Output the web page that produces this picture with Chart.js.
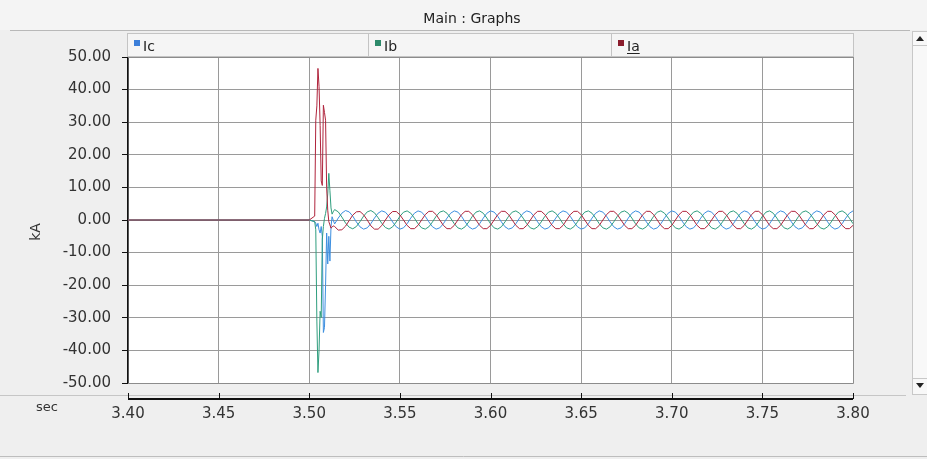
<!DOCTYPE html>
<html>
<head>
<meta charset="utf-8">
<script src="https://cdn.jsdelivr.net/npm/chart.js@4.4.1/dist/chart.umd.min.js"></script>
<style>
  html, body { margin: 0; padding: 0; background: #efefef; }
  #wrap { width: 927px; height: 459px; }
</style>
</head>
<body>
<div id="wrap"><canvas id="graph" width="927" height="459"></canvas></div>
<script>
// legend order as shown in the graph header
const seriesNames = ['Ic', 'Ib', 'Ia']
const seriesColors = { Ia: '#b0243c', Ib: '#2f9e7e', Ic: '#3d8fe0' }
const legendColors = { Ia: '#8a1c2c', Ib: '#2d8a6a', Ic: '#3c7fd9' }

const xTicks = [3.40, 3.45, 3.50, 3.55, 3.60, 3.65, 3.70, 3.75, 3.80]
const yTicks = [-50, -40, -30, -20, -10, 0, 10, 20, 30, 40, 50]

// pre-fault and fault transient (sec, kA)
const faultTime = [3.4000, 3.5000, 3.5030, 3.5036, 3.5042, 3.5048, 3.5054, 3.5060, 3.5066, 3.5072,
                   3.5078, 3.5084, 3.5090, 3.5096, 3.5102, 3.5108, 3.5114, 3.5120, 3.5126, 3.5132]
const faultIa = [0, 0, 1.2, 30.6, 35.0, 46.5, 41.0, 29.0, 12.0, 10.6,
                 35.2, 33.0, 30.6, 10.0, 3.0, -0.5, -1.5, -2.5, -2.2, -1.8]
const faultIb = [0, 0, -0.5, -3.0, -31.0, -46.8, -40.0, -28.0, -29.9, -6.0,
                 -2.0, 0.5, 2.0, 4.0, 8.0, 14.3, 9.0, 3.7, 1.8, 2.5]
const faultIc = [0, 0, -0.5, -1.0, -2.0, -1.0, -3.0, -4.0, -2.0, -5.0,
                 -34.5, -33.0, -20.0, -4.0, -13.5, -5.0, -12.6, -2.0, 1.0, 0.0]

// post-fault steady state, sampled every 2 ms from 3.514 s
const steadyStart = 3.514
const steadyStep = 0.002
const steadyIa = [
  -2.0, -3.1, -3.0, -1.9, -0.2, 1.5, 2.5, 2.6, 1.6, 0.0,
  -1.8, -2.8, -2.8, -1.7, 0.0, 1.6, 2.6, 2.6, 1.6, 0.0,
  -1.65, -2.66, -2.66, -1.65, 0, 1.65, 2.66, 2.66, 1.65, 0,
  -1.65, -2.66, -2.66, -1.65, 0, 1.65, 2.66, 2.66, 1.65, 0,
  -1.65, -2.66, -2.66, -1.65, 0, 1.65, 2.66, 2.66, 1.65, 0,
  -1.65, -2.66, -2.66, -1.65, 0, 1.65, 2.66, 2.66, 1.65, 0,
  -1.65, -2.66, -2.66, -1.65, 0, 1.65, 2.66, 2.66, 1.65, 0,
  -1.65, -2.66, -2.66, -1.65, 0, 1.65, 2.66, 2.66, 1.65, 0,
  -1.65, -2.66, -2.66, -1.65, 0, 1.65, 2.66, 2.66, 1.65, 0,
  -1.65, -2.66, -2.66, -1.65, 0, 1.65, 2.66, 2.66, 1.65, 0,
  -1.65, -2.66, -2.66, -1.65, 0, 1.65, 2.66, 2.66, 1.65, 0,
  -1.65, -2.66, -2.66, -1.65, 0, 1.65, 2.66, 2.66, 1.65, 0,
  -1.65, -2.66, -2.66, -1.65, 0, 1.65, 2.66, 2.66, 1.65, 0,
  -1.65, -2.66, -2.66, -1.65, 0, 1.65, 2.66, 2.66, 1.65, 0,
  -1.65, -2.66, -2.66, -1.65
]
const steadyIb = [
  3.2, 2.5, 0.9, -0.9, -2.2, -2.7, -2.0, -0.5, 1.2, 2.5,
  2.9, 2.2, 0.7, -1.0, -2.3, -2.8, -2.1, -0.6, 1.1, 2.4,
  2.79, 2.08, 0.58, -1.14, -2.42, -2.79, -2.08, -0.58, 1.14, 2.42,
  2.79, 2.08, 0.58, -1.14, -2.42, -2.79, -2.08, -0.58, 1.14, 2.42,
  2.79, 2.08, 0.58, -1.14, -2.42, -2.79, -2.08, -0.58, 1.14, 2.42,
  2.79, 2.08, 0.58, -1.14, -2.42, -2.79, -2.08, -0.58, 1.14, 2.42,
  2.79, 2.08, 0.58, -1.14, -2.42, -2.79, -2.08, -0.58, 1.14, 2.42,
  2.79, 2.08, 0.58, -1.14, -2.42, -2.79, -2.08, -0.58, 1.14, 2.42,
  2.79, 2.08, 0.58, -1.14, -2.42, -2.79, -2.08, -0.58, 1.14, 2.42,
  2.79, 2.08, 0.58, -1.14, -2.42, -2.79, -2.08, -0.58, 1.14, 2.42,
  2.79, 2.08, 0.58, -1.14, -2.42, -2.79, -2.08, -0.58, 1.14, 2.42,
  2.79, 2.08, 0.58, -1.14, -2.42, -2.79, -2.08, -0.58, 1.14, 2.42,
  2.79, 2.08, 0.58, -1.14, -2.42, -2.79, -2.08, -0.58, 1.14, 2.42,
  2.79, 2.08, 0.58, -1.14, -2.42, -2.79, -2.08, -0.58, 1.14, 2.42,
  2.79, 2.08, 0.58, -1.14
]
const steadyIc = [
  -1.2, 0.6, 2.1, 2.9, 2.5, 1.2, -0.6, -2.1, -2.8, -2.4,
  -1.1, 0.6, 2.1, 2.8, 2.4, 1.1, -0.6, -2.1, -2.8, -2.4,
  -1.14, 0.58, 2.08, 2.79, 2.42, 1.14, -0.58, -2.08, -2.79, -2.42,
  -1.14, 0.58, 2.08, 2.79, 2.42, 1.14, -0.58, -2.08, -2.79, -2.42,
  -1.14, 0.58, 2.08, 2.79, 2.42, 1.14, -0.58, -2.08, -2.79, -2.42,
  -1.14, 0.58, 2.08, 2.79, 2.42, 1.14, -0.58, -2.08, -2.79, -2.42,
  -1.14, 0.58, 2.08, 2.79, 2.42, 1.14, -0.58, -2.08, -2.79, -2.42,
  -1.14, 0.58, 2.08, 2.79, 2.42, 1.14, -0.58, -2.08, -2.79, -2.42,
  -1.14, 0.58, 2.08, 2.79, 2.42, 1.14, -0.58, -2.08, -2.79, -2.42,
  -1.14, 0.58, 2.08, 2.79, 2.42, 1.14, -0.58, -2.08, -2.79, -2.42,
  -1.14, 0.58, 2.08, 2.79, 2.42, 1.14, -0.58, -2.08, -2.79, -2.42,
  -1.14, 0.58, 2.08, 2.79, 2.42, 1.14, -0.58, -2.08, -2.79, -2.42,
  -1.14, 0.58, 2.08, 2.79, 2.42, 1.14, -0.58, -2.08, -2.79, -2.42,
  -1.14, 0.58, 2.08, 2.79, 2.42, 1.14, -0.58, -2.08, -2.79, -2.42,
  -1.14, 0.58, 2.08, 2.79
]

function toPoints(fault, steady) {
  const pts = faultTime.map((t, i) => ({ x: t, y: fault[i] }))
  steady.forEach((v, i) => pts.push({ x: steadyStart + i * steadyStep, y: v }))
  return pts
}

const FONT = '"DejaVu Sans", Verdana, sans-serif'
const legendCells = { Ic: [127, 368], Ib: [368, 611], Ia: [611, 853] }

const frame = {
  id: 'frame',
  beforeDraw(chart) {
    const { ctx, chartArea: a } = chart
    ctx.save()
    ctx.fillStyle = '#efefef'
    ctx.fillRect(0, 0, chart.width, chart.height)
    ctx.fillStyle = '#f4f4f4'
    ctx.fillRect(0, 0, chart.width, 30)
    ctx.fillStyle = '#ffffff'
    ctx.fillRect(a.left, a.top, a.right - a.left, a.bottom - a.top)
    ctx.restore()
  },
  afterDraw(chart) {
    const { ctx, chartArea: a } = chart
    const xs = chart.scales.x
    ctx.save()

    // plot border
    ctx.strokeStyle = '#8c8c8c'
    ctx.lineWidth = 1
    ctx.beginPath()
    ctx.moveTo(a.left, a.bottom + 0.5); ctx.lineTo(a.right + 0.5, a.bottom + 0.5)
    ctx.lineTo(a.right + 0.5, a.top - 24)
    ctx.stroke()

    // window title
    ctx.fillStyle = '#222'
    ctx.font = '14px ' + FONT
    ctx.textAlign = 'center'
    ctx.textBaseline = 'middle'
    ctx.fillText('Main : Graphs', 472, 19)
    ctx.strokeStyle = '#b8b8b8'
    ctx.beginPath(); ctx.moveTo(10, 30.5); ctx.lineTo(910, 30.5); ctx.stroke()

    // legend header cells
    seriesNames.forEach(name => {
      const [l, r] = legendCells[name]
      ctx.fillStyle = '#f5f5f5'
      ctx.fillRect(l, 33, r - l, 23)
      ctx.strokeStyle = '#c4c4c4'
      ctx.strokeRect(l + 0.5, 33.5, r - l, 23)
      ctx.fillStyle = legendColors[name]
      ctx.fillRect(l + 7, 40, 6, 6)
      ctx.fillStyle = '#222'
      ctx.font = '14px ' + FONT
      ctx.textAlign = 'left'
      ctx.textBaseline = 'alphabetic'
      ctx.fillText(name, l + 16, 51)
      if (name === 'Ia') {
        const w = ctx.measureText(name).width
        ctx.fillRect(l + 16, 53, w, 1)
      }
    })
    ctx.strokeStyle = '#8c8c8c'
    ctx.beginPath(); ctx.moveTo(a.left, a.top + 0.5); ctx.lineTo(a.right, a.top + 0.5); ctx.stroke()

    // y axis title
    ctx.save()
    ctx.translate(36, 232)
    ctx.rotate(-Math.PI / 2)
    ctx.fillStyle = '#333'
    ctx.font = '14px ' + FONT
    ctx.textAlign = 'center'
    ctx.textBaseline = 'middle'
    ctx.fillText('kA', 0, 0)
    ctx.restore()

    // separators of the time-axis strip
    ctx.strokeStyle = '#c6c6c6'
    ctx.beginPath(); ctx.moveTo(0, 395.5); ctx.lineTo(906, 395.5); ctx.stroke()
    ctx.strokeStyle = '#bdbdbd'
    ctx.beginPath(); ctx.moveTo(0, 456.5); ctx.lineTo(927, 456.5); ctx.stroke()

    // time axis line with ticks
    ctx.strokeStyle = '#111'
    ctx.lineWidth = 2
    ctx.beginPath(); ctx.moveTo(a.left, 399); ctx.lineTo(a.right, 399); ctx.stroke()
    ctx.lineWidth = 1
    xTicks.forEach(v => {
      const px = Math.round(xs.getPixelForValue(v)) + 0.5
      ctx.beginPath(); ctx.moveTo(px, 393); ctx.lineTo(px, 399); ctx.stroke()
    })
    ctx.fillStyle = '#333'
    ctx.font = '13px ' + FONT
    ctx.textAlign = 'center'
    ctx.textBaseline = 'middle'
    ctx.fillText('sec', 47, 408)

    // scrollbar
    ctx.fillStyle = '#f8f8f8'
    ctx.fillRect(912, 31, 15, 364)
    ctx.strokeStyle = '#c8c8c8'
    ctx.strokeRect(912.5, 31.5, 15, 363)
    ctx.beginPath(); ctx.moveTo(912, 45.5); ctx.lineTo(927, 45.5); ctx.stroke()
    ctx.beginPath(); ctx.moveTo(912, 378.5); ctx.lineTo(927, 378.5); ctx.stroke()
    ctx.fillStyle = '#222'
    ctx.beginPath(); ctx.moveTo(916, 41); ctx.lineTo(924, 41); ctx.lineTo(920, 36); ctx.fill()
    ctx.beginPath(); ctx.moveTo(916, 383); ctx.lineTo(924, 383); ctx.lineTo(920, 388); ctx.fill()

    ctx.restore()
  }
}

new Chart(document.getElementById('graph'), {
  type: 'line',
  data: {
    datasets: [
      { label: 'Ia', data: toPoints(faultIa, steadyIa), borderColor: seriesColors.Ia },
      { label: 'Ib', data: toPoints(faultIb, steadyIb), borderColor: seriesColors.Ib },
      { label: 'Ic', data: toPoints(faultIc, steadyIc), borderColor: seriesColors.Ic }
    ]
  },
  options: {
    responsive: false,
    animation: false,
    devicePixelRatio: 1,
    layout: { padding: { top: 57, right: 74, bottom: 0, left: 0 } },
    elements: {
      point: { radius: 0 },
      line: { borderWidth: 1, tension: 0 }
    },
    plugins: { legend: { display: false }, title: { display: false }, tooltip: { enabled: false } },
    scales: {
      x: {
        type: 'linear',
        min: 3.4,
        max: 3.8,
        afterBuildTicks: scale => { scale.ticks = xTicks.map(v => ({ value: v })) },
        afterFit: scale => { scale.height = 76 },
        border: { display: false },
        grid: { color: '#9a9a9a', drawTicks: false },
        ticks: {
          padding: 22,
          color: '#333',
          font: { family: FONT, size: 15 },
          maxRotation: 0,
          callback: v => v.toFixed(2)
        }
      },
      y: {
        min: -50,
        max: 50,
        afterBuildTicks: scale => { scale.ticks = yTicks.map(v => ({ value: v })) },
        afterFit: scale => { scale.width = 128 },
        border: { display: true, color: '#111', width: 1.5 },
        grid: { color: '#9a9a9a', tickColor: '#111', tickLength: 6 },
        ticks: {
          padding: 11,
          color: '#333',
          font: { family: FONT, size: 15 },
          callback: v => v.toFixed(2)
        }
      }
    }
  },
  plugins: [frame]
})
</script>
</body>
</html>
